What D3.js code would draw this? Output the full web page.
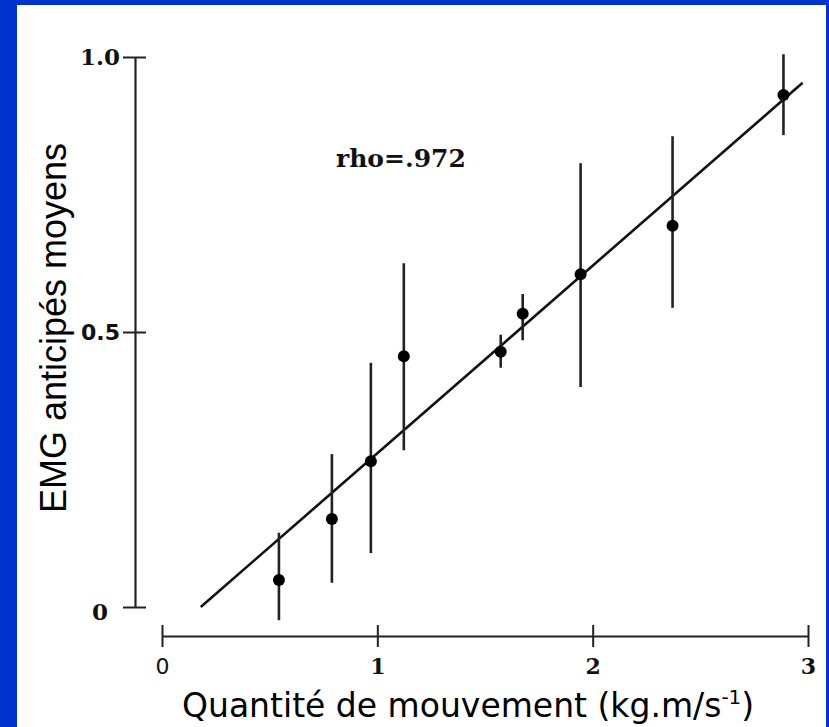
<!DOCTYPE html>
<html>
<head>
<meta charset="utf-8">
<script src="https://d3js.org/d3.v7.min.js"></script>
<style>
  body { margin: 0; background: #0033cc; }
  svg { display: block; }
</style>
</head>
<body>
<div id="chart"></div>
<script>
// values
const momentum = [0.543, 0.789, 0.970, 1.123, 1.573, 1.675, 1.944, 2.371, 2.886];
const emgMean  = [0.049, 0.160, 0.265, 0.456, 0.464, 0.533, 0.605, 0.693, 0.931];
const emgHigh  = [0.135, 0.278, 0.444, 0.625, 0.495, 0.569, 0.807, 0.856, 1.005];
const emgLow   = [-0.024, 0.044, 0.098, 0.285, 0.435, 0.485, 0.400, 0.544, 0.858];
const fitX = [0.18, 2.975];
const fitY = [0.0, 0.953];
const xTicks = [0, 1, 2, 3];
const yTicks = [0, 0.5, 1.0];
const yTickLabels = ["0", "0.5", "1.0"];

const W = 829, H = 727;
const svg = d3.select("#chart").append("svg")
  .attr("width", W).attr("height", H);

// white panel on the blue slide
svg.append("rect")
  .attr("x", 17).attr("y", 5)
  .attr("width", 809).attr("height", H - 5)
  .attr("fill", "#fff");

const x = d3.scaleLinear().domain([0, 3]).range([162, 808]);
const y = d3.scaleLinear().domain([0, 1]).range([607, 57]);

const serifBold = "'DejaVu Serif', serif";

// x axis
const xAxis = svg.append("g")
  .attr("transform", "translate(0,636)")
  .call(d3.axisBottom(x).tickValues(xTicks).tickSize(11).tickSizeOuter(0).tickFormat(d3.format("d")));
xAxis.select(".domain").attr("stroke", "#222").attr("stroke-width", 2.2);
xAxis.selectAll(".tick line").attr("y1", -11).attr("y2", 11).attr("stroke", "#222").attr("stroke-width", 2);
xAxis.selectAll(".tick text")
  .attr("y", 22).attr("dy", "0.71em")
  .attr("fill", "#111")
  .style("font-family", serifBold).style("font-weight", "bold").style("font-size", "22px");
xAxis.selectAll(".tick text").filter(d => d === 0)
  .style("font-family", "'DejaVu Sans', sans-serif").style("font-weight", "normal");

// y axis
const yAxis = svg.append("g")
  .attr("transform", "translate(135,0)")
  .call(d3.axisLeft(y).tickValues(yTicks).tickSize(11).tickSizeOuter(0)
    .tickFormat((d, i) => yTickLabels[i]));
yAxis.select(".domain").attr("stroke", "#222").attr("stroke-width", 2.2);
yAxis.selectAll(".tick line").attr("x1", -12).attr("x2", 11).attr("stroke", "#222").attr("stroke-width", 2);
yAxis.selectAll(".tick text")
  .attr("x", -15)
  .attr("fill", "#111")
  .style("font-family", serifBold).style("font-weight", "bold").style("font-size", "23px");
yAxis.selectAll(".tick text").filter(d => d === 0.5)
  .style("font-family", "'DejaVu Sans', sans-serif").style("font-size", "22px");
yAxis.selectAll(".tick text").filter(d => d === 0).attr("x", -27).attr("dy", "0.55em");

// regression line
svg.append("line")
  .attr("x1", x(fitX[0])).attr("y1", y(fitY[0]))
  .attr("x2", x(fitX[1])).attr("y2", y(fitY[1]))
  .attr("stroke", "#111").attr("stroke-width", 2.6);

// error bars
svg.append("g").selectAll("line")
  .data(momentum)
  .join("line")
  .attr("x1", d => x(d)).attr("x2", d => x(d))
  .attr("y1", (d, i) => y(emgHigh[i]))
  .attr("y2", (d, i) => y(emgLow[i]))
  .attr("stroke", "#222").attr("stroke-width", 2.6);

// means
svg.append("g").selectAll("circle")
  .data(momentum)
  .join("circle")
  .attr("cx", d => x(d))
  .attr("cy", (d, i) => y(emgMean[i]))
  .attr("r", 6)
  .attr("fill", "#000");

// correlation note
svg.append("text")
  .attr("x", 336).attr("y", 167)
  .attr("fill", "#111")
  .style("font-family", serifBold).style("font-weight", "bold").style("font-size", "25px")
  .text("rho=.972");

// axis titles
const xTitle = svg.append("text")
  .attr("x", 182).attr("y", 717)
  .attr("fill", "#000")
  .style("font-family", "'DejaVu Sans', sans-serif").style("font-size", "33px");
xTitle.append("tspan").text("Quantité de mouvement (kg.m/s");
xTitle.append("tspan").attr("dy", -13).style("font-size", "20px").text("-1");
xTitle.append("tspan").attr("dy", 13).text(")");

svg.append("text")
  .attr("transform", "translate(66,328) rotate(-90)")
  .attr("text-anchor", "middle")
  .attr("fill", "#000")
  .style("font-family", "'Liberation Sans', Arial, sans-serif").style("font-size", "36px")
  .text("EMG anticipés moyens");
</script>
</body>
</html>
